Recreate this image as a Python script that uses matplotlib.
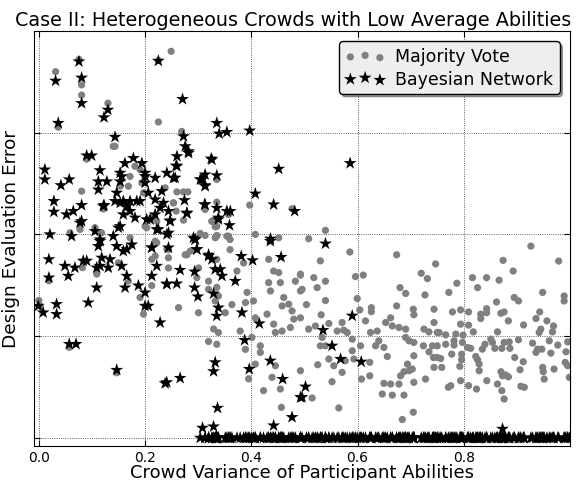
import numpy as np
import matplotlib
matplotlib.use("Agg")
import matplotlib.pyplot as plt

# ---------------- data ----------------
# Majority Vote errors for low/medium-variance crowds (gray circles)
mv_var = [0.0755, 0.0315, 0.0805, 0.0805, 0.130, 0.0365, 0.1434, 0.225, 0.249, 0.225,
          0.0805, 0.0774, 0.1685, 0.197, 0.1906, 0.153, 0.200, 0.222, 0.0585, 0.1057,
          0.118, 0.1717, 0.269, 0.2377, 0.260, 0.2723, 0.2805, 0.2534, 0.2585, 0.2723,
          0.000, 0.002, 0.082, 0.109, 0.1497, 0.1685, 0.1906, 0.197, 0.2126, 0.2126,
          0.219, 0.0189, 0.1717, 0.194, 0.181, 0.2126, 0.203, 0.2534, 0.222, 0.241,
          0.2755, 0.285, 0.219, 0.140, 0.244, 0.244, 0.244, 0.2786, 0.3006, 0.2975,
          0.263, 0.3006, 0.0900, 0.1214, 0.1466, 0.0572]
mv_err = [0.372, 0.360, 0.347, 0.337, 0.329, 0.3055, 0.2866, 0.371, 0.380, 0.3105,
          0.2425, 0.2049, 0.2474, 0.2409, 0.2637, 0.2474, 0.208, 0.213, 0.2016, 0.2066,
          0.2016, 0.1967, 0.3013, 0.2458, 0.2418, 0.2418, 0.2418, 0.231, 0.2229, 0.214,
          0.135, 0.1297, 0.1673, 0.161, 0.172, 0.1542, 0.138, 0.1216, 0.1497, 0.1755,
          0.1934, 0.1545, 0.257, 0.2507, 0.267, 0.2164, 0.2066, 0.231, 0.1918, 0.1853,
          0.180, 0.1836, 0.1787, 0.2866, 0.185, 0.177, 0.167, 0.180, 0.167, 0.1575,
          0.128, 0.123, 0.274, 0.225, 0.064, 0.089]

# Bayesian Network errors that are not zero (black stars)
bn_var = [0.0755, 0.0315, 0.0805, 0.0805, 0.130, 0.1226, 0.0365, 0.1434, 0.225, 0.090,
          0.0994, 0.0113, 0.0113, 0.0415, 0.0572, 0.0283, 0.0283, 0.052, 0.0648, 0.0774,
          0.0805, 0.115, 0.112, 0.128, 0.112, 0.1226, 0.153, 0.153, 0.162, 0.178,
          0.194, 0.1466, 0.153, 0.1655, 0.1717, 0.159, 0.1843, 0.200, 0.200, 0.219,
          0.206, 0.203, 0.219, 0.225, 0.2346, 0.0208, 0.0617, 0.1057, 0.1497, 0.140,
          0.2705, 0.335, 0.3396, 0.354, 0.397, 0.2723, 0.2755, 0.2817, 0.260, 0.2585,
          0.241, 0.2534, 0.3245, 0.307, 0.313, 0.335, 0.313, 0.4516, 0.4075, 0.442,
          0.4817, 0.2742, 0.2787, 0.244, 0.2472, 0.244, 0.312, 0.335, 0.338, 0.3604,
          0.359, 0.291, 0.436, 0.156, 0.1434, 0.159, 0.1717, 0.181, 0.153, 0.1906,
          0.200, 0.2566, 0.260, 0.2817, 0.3258, 0.3038, 0.313, 0.2315, 0.219, 0.2283,
          0.2094, 0.247, 0.222, 0.241, 0.2787, 0.313, 0.338, 0.354, 0.0805, 0.1214,
          0.115, 0.1466, 0.175, 0.159, 0.2126, 0.244, 0.2943, 0.2975, 0.3195, 0.115,
          0.112, 0.1655, 0.0189, 0.049, 0.0679, 0.0553, 0.0836, 0.090, 0.1183, 0.134,
          0.1151, 0.1308, 0.1089, 0.156, 0.1655, 0.1623, 0.1089, 0.093, 0.0189, -0.001,
          0.0081, 0.0334, 0.0334, 0.0572, 0.070, 0.1466, 0.1874, 0.200, 0.200, 0.206,
          0.2283, 0.2377, 0.2126, 0.222, 0.2126, 0.241, 0.2943, 0.2975, 0.3196, 0.3258,
          0.332, 0.3415, 0.3447, 0.3698, 0.2932, 0.266, 0.2597, 0.2408, 0.2932, 0.2994,
          0.3289, 0.338, 0.3349, 0.3824, 0.4151, 0.3874, 0.3811, 0.4024, 0.4358, 0.456,
          0.332, 0.3289, 0.3962, 0.4358, 0.459, 0.266, 0.2408, 0.3364, 0.3081, 0.3289,
          0.442, 0.4767, 0.4925, 0.586, 0.5396, 0.590, 0.535, 0.552, 0.568, 0.607,
          0.502, 0.4956, 0.873]
bn_err = [0.370, 0.351, 0.354, 0.329, 0.3225, 0.315, 0.3095, 0.2958, 0.3706, 0.2775,
          0.2775, 0.2637, 0.254, 0.2483, 0.254, 0.2327, 0.2222, 0.2196, 0.2229, 0.2115,
          0.2288, 0.263, 0.252, 0.252, 0.244, 0.2288, 0.2605, 0.252, 0.270, 0.275,
          0.270, 0.2409, 0.231, 0.2277, 0.2229, 0.2196, 0.2327, 0.2572, 0.2507, 0.2556,
          0.2409, 0.2147, 0.2196, 0.2049, 0.231, 0.200, 0.1983, 0.2032, 0.2066, 0.1983,
          0.333, 0.3095, 0.299, 0.3006, 0.302, 0.2964, 0.2866, 0.2817, 0.2768, 0.2676,
          0.2605, 0.2556, 0.2745, 0.254, 0.2588, 0.258, 0.2483, 0.2644, 0.240, 0.2294,
          0.2229, 0.2336, 0.2206, 0.2229, 0.2137, 0.2016, 0.2294, 0.226, 0.2147, 0.2229,
          0.209, 0.1967, 0.1957, 0.257, 0.2327, 0.2327, 0.2327, 0.2164, 0.208, 0.2327,
          0.2605, 0.2556, 0.267, 0.280, 0.2735, 0.254, 0.2474, 0.2425, 0.2343, 0.226,
          0.2147, 0.213, 0.2049, 0.200, 0.2213, 0.2294, 0.2164, 0.2229, 0.213, 0.2277,
          0.195, 0.1885, 0.190, 0.1836, 0.187, 0.187, 0.195, 0.1853, 0.180, 0.1934,
          0.1885, 0.1853, 0.1755, 0.169, 0.1673, 0.1592, 0.174, 0.174, 0.177, 0.1755,
          0.169, 0.1673, 0.1673, 0.169, 0.1592, 0.1477, 0.1477, 0.133, 0.1575, 0.1297,
          0.1232, 0.1314, 0.1216, 0.0922, 0.0922, 0.0667, 0.1497, 0.1428, 0.1297, 0.1297,
          0.1134, 0.0536, 0.187, 0.169, 0.1592, 0.151, 0.1951, 0.1853, 0.1787, 0.1755,
          0.1657, 0.1657, 0.1592, 0.1542, 0.1634, 0.165, 0.1516, 0.1516, 0.1477, 0.1389,
          0.1418, 0.128, 0.1199, 0.1232, 0.1124, 0.0961, 0.1787, 0.1745, 0.1934, 0.1777,
          0.0742, 0.0654, 0.0676, 0.0758, 0.0578, 0.0588, 0.0546, 0.0294, 0.0098, 0.0111,
          0.0121, 0.0203, 0.0399, 0.270, 0.1909, 0.120, 0.1059, 0.0905, 0.0775, 0.0748,
          0.0503, 0.0399, 0.0088]

# High-variance crowds: same variance for both methods, BN error is zero
hv_var = [0.335, 0.397, 0.4767, 0.313, 0.335, 0.357, 0.326, 0.332, 0.3038, 0.313,
          0.335, 0.357, 0.4075, 0.4516, 0.3258, 0.335, 0.354, 0.335,
          0.3195, 0.3195, 0.335, 0.338, 0.360, 0.373, 0.3855, 0.392, 0.389, 0.3635,
          0.351, 0.332, 0.329, 0.338, 0.3195, 0.335, 0.379, 0.389, 0.404, 0.4075,
          0.401, 0.417, 0.417, 0.4075, 0.395, 0.423, 0.4327, 0.442, 0.4516, 0.4327,
          0.436, 0.4547, 0.461, 0.458, 0.4704, 0.4767, 0.480, 0.4736, 0.458, 0.4453,
          0.442, 0.4296, 0.483, 0.4925, 0.4925, 0.4925, 0.4453, 0.439, 0.4547, 0.4566,
          0.335, 0.360, 0.332,
          0.5396, 0.508, 0.5855, 0.530, 0.4925, 0.5176, 0.5396, 0.524, 0.4956, 0.5396,
          0.5038, 0.5315, 0.4925, 0.596, 0.6107, 0.5994, 0.6043, 0.626, 0.626, 0.615,
          0.571, 0.508, 0.5208, 0.546, 0.5617, 0.574, 0.5805, 0.5334, 0.530, 0.5396,
          0.590, 0.590, 0.6057, 0.546, 0.5553, 0.571, 0.577, 0.593, 0.525, 0.552,
          0.6075, 0.623, 0.5145, 0.5647, 0.6245, 0.637, 0.640, 0.634, 0.6497, 0.656,
          0.6736, 0.680, 0.6906, 0.6736, 0.6623, 0.653, 0.6655, 0.678, 0.6906, 0.6906,
          0.697, 0.706, 0.706, 0.694, 0.681, 0.6874, 0.697, 0.703, 0.678, 0.6623,
          0.6497, 0.6466, 0.6655, 0.6874, 0.706, 0.6843, 0.705, 0.623, 0.705, 0.706,
          0.720, 0.7315, 0.727, 0.747, 0.725, 0.7345, 0.750, 0.724, 0.741, 0.750,
          0.7345, 0.743, 0.750, 0.744, 0.728, 0.744, 0.744,
          0.9264, 0.874, 0.9787, 0.893, 0.8164, 0.843, 0.8666, 0.787, 0.826, 0.772,
          0.9485, 0.895, 0.903, 0.989, 0.989, 0.8617, 0.7787, 0.794, 0.809, 0.843,
          0.843, 0.832, 0.832, 0.8698, 0.876, 0.943, 0.884, 0.936, 0.9566, 0.9126,
          0.794, 0.809, 0.969, 0.967, 0.945, 0.942, 0.8635, 0.818, 0.7535, 0.766,
          0.785, 0.7987, 0.7817, 0.7817, 0.7975, 0.807, 0.813, 0.766, 0.840, 0.835,
          0.851, 0.854, 0.876, 0.8855, 0.8585, 0.8717, 0.8868, 0.903, 0.9296, 0.939,
          0.947, 0.961, 0.977, 0.9957, 0.9925, 0.964, 0.7566, 0.7774, 0.796, 0.796,
          0.8226, 0.826, 0.829, 0.829, 0.896, 0.912, 0.936, 0.7925, 0.7585, 0.870,
          0.873, 0.879, 0.884, 0.906, 0.9485, 0.9497, 0.970, 0.991, 0.9957, 0.9987,
          0.9515, 0.8434, 0.794, 0.7755, 0.771, 0.809, 0.824, 0.8635, 0.8717, 0.876,
          0.9075, 0.914, 0.9264, 0.9296, 0.941, 0.9547, 0.961, 0.9723, 0.985, 0.9094,
          0.7987, 0.7647]
hv_mv = [0.254, 0.2288, 0.2252, 0.2245, 0.2317, 0.2196, 0.213, 0.2075, 0.201, 0.199,
         0.199, 0.1983, 0.200, 0.1967, 0.213, 0.208, 0.1983, 0.1983,
         0.154, 0.146, 0.148, 0.1395, 0.185, 0.164, 0.172, 0.143, 0.133, 0.131,
         0.123, 0.1346, 0.107, 0.1036, 0.0948, 0.092, 0.105, 0.087, 0.1346, 0.118,
         0.0987, 0.0905, 0.084, 0.0725, 0.058, 0.0464, 0.1755, 0.164, 0.1625, 0.1526,
         0.1444, 0.1526, 0.138, 0.1297, 0.1314, 0.1248, 0.1167, 0.1085, 0.105, 0.1036,
         0.1118, 0.1216, 0.154, 0.161, 0.1444, 0.066, 0.0709, 0.0595, 0.048, 0.030,
         0.1755, 0.195, 0.1967,
         0.204, 0.1958, 0.1827, 0.174, 0.160, 0.1575, 0.154, 0.1477, 0.146, 0.135,
         0.131, 0.121, 0.118, 0.1585, 0.160, 0.137, 0.1258, 0.128, 0.124, 0.115,
         0.1134, 0.1069, 0.110, 0.1124, 0.105, 0.1059, 0.1036, 0.0987, 0.0905, 0.0905,
         0.097, 0.0856, 0.0905, 0.0775, 0.0709, 0.0644, 0.0758, 0.0775, 0.0719, 0.0552,
         0.0578, 0.061, 0.0392, 0.0294, 0.1036, 0.105, 0.0954, 0.0905, 0.0889, 0.080,
         0.180, 0.1477, 0.142, 0.1297, 0.118, 0.1134, 0.110, 0.1085, 0.1069, 0.0987,
         0.0954, 0.0938, 0.0807, 0.0725, 0.061, 0.065, 0.066, 0.0676, 0.0529, 0.0529,
         0.0536, 0.0431, 0.042, 0.042, 0.0546, 0.018, 0.0252, 0.0742, 0.1265, 0.121,
         0.1618, 0.1566, 0.1405, 0.171, 0.1069, 0.1042, 0.1036, 0.0905, 0.0905, 0.0905,
         0.0846, 0.079, 0.079, 0.0693, 0.0578, 0.1134, 0.1265,
         0.1885, 0.1745, 0.1738, 0.164, 0.1575, 0.1575, 0.155, 0.152, 0.1477, 0.143,
         0.143, 0.138, 0.1346, 0.1395, 0.1346, 0.1336, 0.1238, 0.1258, 0.1238, 0.127,
         0.123, 0.1216, 0.1173, 0.1225, 0.1238, 0.1238, 0.115, 0.1173, 0.115, 0.111,
         0.1118, 0.1108, 0.110, 0.1042, 0.1069, 0.1036, 0.1042, 0.1042, 0.1036, 0.1013,
         0.102, 0.101, 0.0954, 0.0912, 0.0938, 0.0889, 0.088, 0.092, 0.092, 0.0872,
         0.097, 0.0938, 0.0938, 0.0944, 0.088, 0.088, 0.088, 0.0964, 0.0931, 0.0872,
         0.0872, 0.0954, 0.0912, 0.0944, 0.0846, 0.0833, 0.078, 0.0823, 0.0823, 0.0768,
         0.080, 0.0768, 0.0725, 0.066, 0.079, 0.0748, 0.084, 0.0703, 0.0693, 0.065,
         0.061, 0.0618, 0.060, 0.067, 0.0693, 0.065, 0.0676, 0.0742, 0.0709, 0.0595,
         0.0578, 0.0562, 0.0562, 0.0513, 0.0497, 0.0513, 0.048, 0.0529, 0.0464, 0.0382,
         0.0507, 0.0497, 0.0507, 0.0431, 0.042, 0.0454, 0.0431, 0.0431, 0.0376, 0.039,
         0.0431, 0.0399]
hv_bn = [
    0, 0, 0, 0, 0, 0, 0, 0, 0, 0, 0, 0, 0, 0, 0, 0, 0, 0,
    0, 0, 0, 0, 0, 0, 0, 0, 0, 0, 0, 0, 0, 0, 0, 0, 0, 0, 0, 0,
    0, 0, 0, 0, 0, 0, 0, 0, 0, 0, 0, 0, 0, 0, 0, 0, 0, 0, 0, 0,
    0, 0, 0, 0, 0, 0, 0, 0, 0, 0, 0, 0, 0,
    0, 0, 0, 0, 0, 0, 0, 0, 0, 0, 0, 0, 0, 0, 0, 0, 0, 0, 0, 0,
    0, 0, 0, 0, 0, 0, 0, 0, 0, 0, 0, 0, 0, 0, 0, 0, 0, 0, 0, 0,
    0, 0, 0, 0, 0, 0, 0, 0, 0, 0, 0, 0, 0, 0, 0, 0, 0, 0, 0, 0,
    0, 0, 0, 0, 0, 0, 0, 0, 0, 0, 0, 0, 0, 0, 0, 0, 0, 0, 0, 0,
    0, 0, 0, 0, 0, 0, 0, 0, 0, 0, 0, 0, 0, 0, 0, 0, 0,
    0, 0, 0, 0, 0, 0, 0, 0, 0, 0, 0, 0, 0, 0, 0, 0, 0, 0, 0, 0,
    0, 0, 0, 0, 0, 0, 0, 0, 0, 0, 0, 0, 0, 0, 0, 0, 0, 0, 0, 0,
    0, 0, 0, 0, 0, 0, 0, 0, 0, 0, 0, 0, 0, 0, 0, 0, 0, 0, 0, 0,
    0, 0, 0, 0, 0, 0, 0, 0, 0, 0, 0, 0, 0, 0, 0, 0, 0, 0, 0, 0,
    0, 0, 0, 0, 0, 0, 0, 0, 0, 0, 0, 0, 0, 0, 0, 0, 0, 0, 0, 0,
    0, 0]

x_ticks = [0.0, 0.2, 0.4, 0.6, 0.8]
x_ticklabels = ["0.0", "0.2", "0.4", "0.6", "0.8"]
y_ticks = [0.0, 0.1, 0.2, 0.3]

title = "Case II: Heterogeneous Crowds with Low Average Abilities"
xlabel = "Crowd Variance of Participant Abilities"
ylabel = "Design Evaluation Error"
legend_labels = ["Majority Vote", "Bayesian Network"]

# ---------------- plot ----------------
plt.rcParams['font.family'] = ['DejaVu Sans']
fig = plt.figure(figsize=(5.84, 4.81), dpi=100)
ax = fig.add_axes([0.058, 0.0707, 0.918, 0.8628])

n_hv = min(len(hv_var), len(hv_mv), len(hv_bn))
gray_x = np.concatenate([mv_var, hv_var[:n_hv]])
gray_y = np.concatenate([mv_err, hv_mv[:n_hv]])
star_x = np.concatenate([bn_var, hv_var[:n_hv]])
star_y = np.concatenate([bn_err, hv_bn[:n_hv]])

ax.scatter(gray_x, gray_y, s=27, c='#808080', edgecolors='none',
           label=legend_labels[0], zorder=2)
ax.scatter(star_x, star_y, s=95, c='black', marker='*', edgecolors='none',
           label=legend_labels[1], zorder=3)

ax.set_xlim(-0.0094, 1.0)
ax.set_ylim(-0.008, 0.4)
ax.set_xticks(x_ticks)
ax.set_xticklabels(x_ticklabels, fontsize=10)
ax.set_yticks(y_ticks)
ax.set_yticklabels([])
ax.tick_params(direction='in', top=True, right=True, length=4, width=0.8, pad=3)
ax.grid(True, linestyle=':', color='black', linewidth=0.6, alpha=0.8)
ax.set_axisbelow(True)

ax.set_title(title, fontsize=13.8, pad=4, x=0.483)
ax.set_xlabel(xlabel, fontsize=13, labelpad=-1)
ax.set_ylabel(ylabel, fontsize=13.3, labelpad=7)

leg = ax.legend(loc='upper right', fontsize=12.5, scatterpoints=3,
                scatteryoffsets=[0.375, 0.5, 0.3125], fancybox=True,
                shadow=True, framealpha=1.0, borderpad=0.35,
                handletextpad=0.6, labelspacing=0.25, handlelength=2.3,
                borderaxespad=0.6)
leg.get_frame().set_facecolor('#eeeeee')
leg.get_frame().set_edgecolor('black')
leg.get_frame().set_linewidth(1.0)

fig.savefig("out.png", dpi=100)
